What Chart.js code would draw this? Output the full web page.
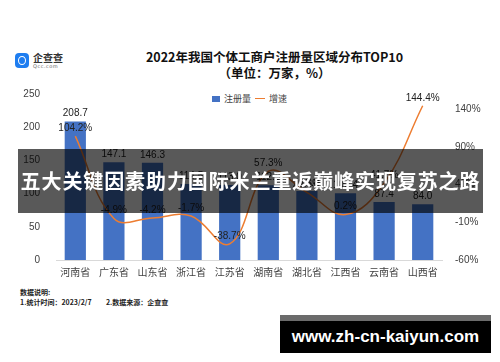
<!DOCTYPE html>
<html>
<head>
<meta charset="utf-8">
<script src="https://cdn.jsdelivr.net/npm/chart.js@4.4.0/dist/chart.umd.min.js"></script>
<style>
  body { margin: 0; width: 500px; height: 362px; background: #fff; position: relative; overflow: hidden; font-family: "Noto Sans CJK SC", sans-serif; }
  #wrap { position: absolute; left: 0; top: 80px; width: 500px; height: 204px; }
  .abs { position: absolute; white-space: nowrap; }
  #title { left: 0; width: 549px; top: 49px; text-align: center; font-weight: bold; font-size: 12.5px; color: #111; line-height: 16px; }
  #logo { left: 15px; top: 53px; }
  #logo .ic { position: absolute; left: 0; top: 0; width: 14px; height: 15px; border-radius: 4px; background: #1e7df0; }
  #logo .ic:after { content: ""; position: absolute; left: 3px; top: 3px; width: 6px; height: 7px; border: 1.5px solid #fff; border-radius: 50%; }
  #logo .t1 { position: absolute; left: 18px; top: -3px; font-size: 10px; font-weight: bold; color: #333; }
  #logo .t2 { position: absolute; left: 18px; top: 10px; font-size: 5px; color: #666; letter-spacing: 0.5px; font-family: "DejaVu Sans", sans-serif; }
  #legend { left: 212px; top: 91px; font-size: 9px; color: #444; }
  #legend span { display: inline-block; vertical-align: middle; }
  #note { left: 20px; top: 287px; font-size: 7px; font-weight: bold; color: #222; line-height: 10px; }
  #band { left: 18px; top: 149px; width: 465px; height: 64px; background: rgba(0,0,0,0.65); color: #fff; font-weight: bold; font-size: 20px; line-height: 64px; text-align: center; letter-spacing: 0.9px; }
  #site { left: 280px; top: 315px; width: 211px; height: 38px; background: #000; border-top: 6px solid #6b6b6b; box-sizing: border-box; color: #fff; font-family: "Liberation Sans", sans-serif; font-weight: bold; font-size: 17px; line-height: 32px; text-align: center; }
</style>
</head>
<body>
<div id="logo" class="abs"><div class="ic"></div><div class="t1">企查查</div><div class="t2">Qcc.com</div></div>
<div id="title" class="abs">2022年我国个体工商户注册量区域分布TOP10<br>（单位：万家，%）</div>
<div id="legend" class="abs"><span style="width:8px;height:6px;background:#4472c4;margin-right:4px"></span><span>注册量</span><span style="width:10px;height:1.5px;background:#ed7d31;margin:0 4px"></span><span>增速</span></div>
<div id="wrap"><canvas id="chart"></canvas></div>
<div id="note" class="abs">数据说明:<br>1.统计时间：2023/2/7&nbsp;&nbsp;&nbsp;&nbsp;&nbsp;&nbsp;&nbsp;&nbsp;&nbsp;2.数据来源：企查查</div>
<div id="band" class="abs">五大关键因素助力国际米兰重返巅峰实现复苏之路</div>
<div id="site" class="abs">www.zh-cn-kaiyun.com</div>
<script>
// 数据
const provinces = ['河南省', '广东省', '山东省', '浙江省', '江苏省', '湖南省', '湖北省', '江西省', '云南省', '山西省'];
const registered = [208.7, 147.1, 146.3, 114.5, 113.0, 112.5, 103.8, 100.4, 87.4, 84.0];
const growth = [104.2, -4.9, -4.2, -1.7, -38.7, 57.3, 29.6, 0.2, 41.7, 144.4];
const leftTicks = [0, 50, 100, 150, 200, 250];
const rightTicks = [-60, -10, 40, 90, 140];

const labelFont = '10px "Liberation Sans", sans-serif';

// desenha os rótulos dos valores
const valueLabels = {
  id: 'valueLabels',
  afterDatasetsDraw(chart) {
    const ctx = chart.ctx;
    ctx.save();
    ctx.font = labelFont;
    ctx.fillStyle = '#222';
    ctx.textAlign = 'center';
    ctx.textBaseline = 'bottom';
    chart.getDatasetMeta(1).data.forEach((el, i) => {
      ctx.fillText(registered[i].toFixed(1), el.x, el.y - 3);
    });
    chart.getDatasetMeta(0).data.forEach((el, i) => {
      ctx.fillText(growth[i].toFixed(1) + '%', el.x, el.y - 3);
    });
    ctx.restore();
  }
};

const ctx = document.getElementById('chart').getContext('2d');
new Chart(ctx, {
  data: {
    labels: provinces,
    datasets: [{
      type: 'line',
      label: '增速',
      data: growth,
      yAxisID: 'y1',
      borderColor: '#ed7d31',
      borderWidth: 1.5,
      pointRadius: 0,
      tension: 0.4,
      order: 0
    }, {
      type: 'bar',
      label: '注册量',
      data: registered,
      yAxisID: 'y',
      backgroundColor: '#4472c4',
      barPercentage: 0.55,
      categoryPercentage: 1,
      order: 1
    }]
  },
  options: {
    responsive: true,
    maintainAspectRatio: false,
    animation: false,
    layout: { padding: { top: 8, left: 0, right: 0, bottom: 0 } },
    plugins: { legend: { display: false }, tooltip: { enabled: false } },
    scales: {
      x: {
        grid: { display: false, drawTicks: false },
        border: { color: '#d9d9d9' },
        ticks: { color: '#404040', padding: 6, font: { size: 10, family: '"Noto Sans CJK SC"' } }
      },
      y: {
        position: 'left',
        min: 0,
        max: 250,
        afterBuildTicks: s => { s.ticks = leftTicks.map(v => ({ value: v })); },
        afterFit: s => { s.width = 56; },
        grid: { display: false },
        border: { display: false },
        ticks: { color: '#404040', padding: 8, font: { size: 10, family: '"Liberation Sans"' } }
      },
      y1: {
        position: 'right',
        min: -60,
        max: 160,
        afterBuildTicks: s => { s.ticks = rightTicks.map(v => ({ value: v })); },
        afterFit: s => { s.width = 58; },
        grid: { display: false },
        border: { display: false },
        ticks: { color: '#404040', padding: 5, font: { size: 10, family: '"Liberation Sans"' }, callback: v => v + '%' }
      }
    }
  },
  plugins: [valueLabels]
});
</script>
</body>
</html>
